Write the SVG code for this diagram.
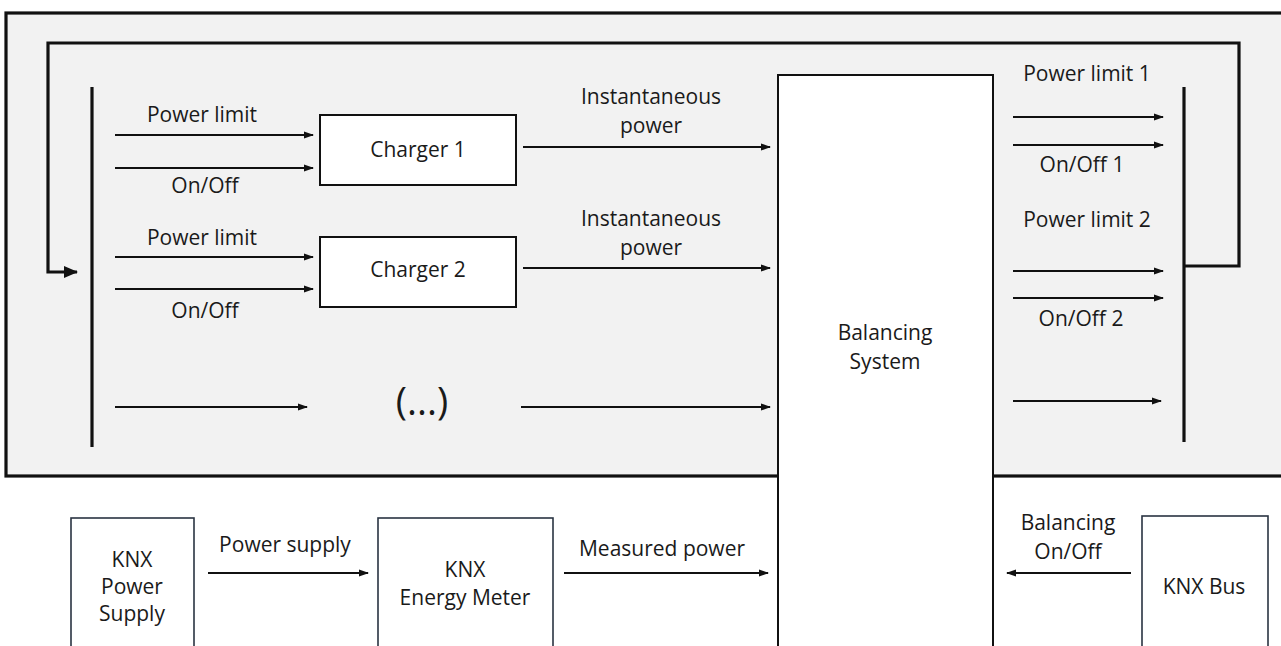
<svg xmlns="http://www.w3.org/2000/svg" width="1281" height="646" viewBox="0 0 1281 646">
<defs>
<style>
text{font-family:"Open Sans","Liberation Sans",Arial,sans-serif;font-size:21px;fill:#1a1a1a;text-anchor:middle}
.big{font-size:38px}
.box{fill:#fff;stroke:#111;stroke-width:2}
.knx{fill:#fff;stroke:#2a3442;stroke-width:1.6}
.ln{fill:none;stroke:#111;stroke-width:2}
.thick{fill:none;stroke:#111;stroke-width:3.2}
</style>
<marker id="ah" markerWidth="10" markerHeight="8" refX="9" refY="4" orient="auto" markerUnits="userSpaceOnUse">
<path d="M0,0.5 L10,4 L0,7.5 Z" fill="#111"/>
</marker>
<marker id="ahb" markerWidth="14" markerHeight="14" refX="13" refY="7" orient="auto" markerUnits="userSpaceOnUse">
<path d="M0,1 L14,7 L0,13 Z" fill="#111"/>
</marker>
</defs>
<rect width="1281" height="646" fill="#fff"/>
<g id="panel">
<rect x="6" y="13" width="1285" height="463" fill="#f2f2f2" stroke="#111" stroke-width="3.2"/>
</g>
<g id="balancing">
<rect class="box" x="778" y="75" width="215" height="600"/>
<text x="885" y="340">Balancing</text>
<text x="885" y="369">System</text>
</g>
<g id="charger1">
<rect class="box" x="320" y="115" width="196" height="70"/>
<text x="418" y="157">Charger 1</text>
</g>
<g id="charger2">
<rect class="box" x="320" y="237" width="196" height="70"/>
<text x="418" y="277">Charger 2</text>
</g>
<g id="ellipsis">
<text class="big" x="422" y="415">(...)</text>
</g>
<g id="knx-power-supply">
<rect class="knx" x="71" y="518" width="123" height="160"/>
<text x="132" y="567">KNX</text>
<text x="132" y="594">Power</text>
<text x="132" y="621">Supply</text>
</g>
<g id="knx-energy-meter">
<rect class="knx" x="378" y="518" width="175" height="160"/>
<text x="465" y="577">KNX</text>
<text x="465" y="605">Energy Meter</text>
</g>
<g id="knx-bus">
<rect class="knx" x="1142" y="516" width="126" height="160"/>
<text x="1204" y="594">KNX Bus</text>
</g>
<g id="bars">
<line class="thick" x1="92" y1="87" x2="92" y2="447"/>
<line class="thick" x1="1184" y1="87" x2="1184" y2="442"/>
</g>
<g id="connectors">
<path class="thick" d="M1184,266 H1239 V43 H48 V272 H77" marker-end="url(#ahb)"/>
<line class="ln" x1="115" y1="135" x2="313" y2="135" marker-end="url(#ah)"/>
<line class="ln" x1="115" y1="168" x2="313" y2="168" marker-end="url(#ah)"/>
<line class="ln" x1="115" y1="257" x2="313" y2="257" marker-end="url(#ah)"/>
<line class="ln" x1="115" y1="289" x2="313" y2="289" marker-end="url(#ah)"/>
<line class="ln" x1="115" y1="407" x2="307" y2="407" marker-end="url(#ah)"/>
<line class="ln" x1="523" y1="147" x2="770" y2="147" marker-end="url(#ah)"/>
<line class="ln" x1="523" y1="268" x2="770" y2="268" marker-end="url(#ah)"/>
<line class="ln" x1="521" y1="407" x2="770" y2="407" marker-end="url(#ah)"/>
<line class="ln" x1="1013" y1="117" x2="1163" y2="117" marker-end="url(#ah)"/>
<line class="ln" x1="1013" y1="145" x2="1163" y2="145" marker-end="url(#ah)"/>
<line class="ln" x1="1013" y1="271" x2="1163" y2="271" marker-end="url(#ah)"/>
<line class="ln" x1="1013" y1="298" x2="1163" y2="298" marker-end="url(#ah)"/>
<line class="ln" x1="1013" y1="401" x2="1161" y2="401" marker-end="url(#ah)"/>
<line class="ln" x1="208" y1="573" x2="368" y2="573" marker-end="url(#ah)"/>
<line class="ln" x1="564" y1="573" x2="768" y2="573" marker-end="url(#ah)"/>
<line class="ln" x1="1131" y1="573" x2="1007" y2="573" marker-end="url(#ah)"/>
</g>
<g id="labels">
<text x="202" y="122">Power limit</text>
<text x="205" y="193">On/Off</text>
<text x="202" y="245">Power limit</text>
<text x="205" y="318">On/Off</text>
<text x="651" y="104">Instantaneous</text>
<text x="651" y="133">power</text>
<text x="651" y="226">Instantaneous</text>
<text x="651" y="255">power</text>
<text x="1087" y="81">Power limit 1</text>
<text x="1082" y="172">On/Off 1</text>
<text x="1087" y="227">Power limit 2</text>
<text x="1081" y="326">On/Off 2</text>
<text x="285" y="552">Power supply</text>
<text x="662" y="556">Measured power</text>
<text x="1068" y="530">Balancing</text>
<text x="1068" y="559">On/Off</text>
</g>
</svg>
